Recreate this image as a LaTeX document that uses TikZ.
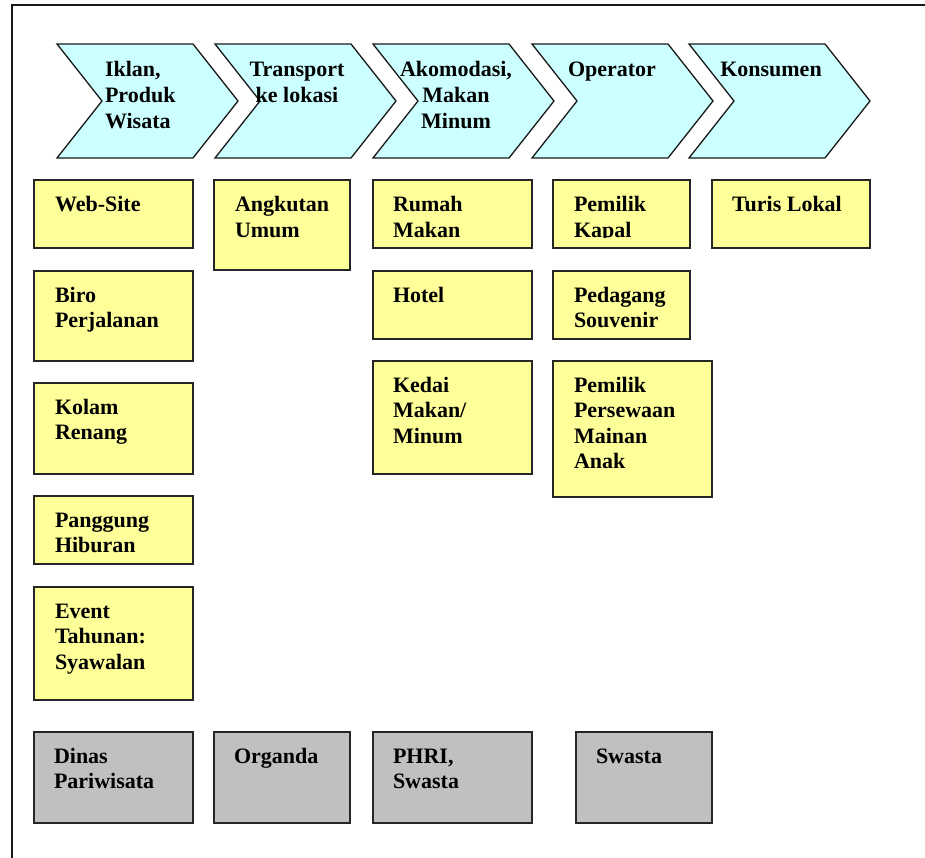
\documentclass[tikz,border=0pt]{standalone}
\usepackage{fontspec}
\setmainfont{Liberation Serif}
\newcommand{\lines}[1]{\begin{tabular}[t]{@{}l@{}}#1\end{tabular}}
\newcommand{\clines}[1]{\begin{tabular}[t]{@{}c@{}}#1\end{tabular}}
\begin{document}
\begin{tikzpicture}[x=1pt,y=-1pt,
  every node/.style={inner sep=0pt, outer sep=0pt},
  chev/.style={draw=black!90, fill=cyan!20!white, line width=1.3pt, line join=miter},
  ybox/.style={draw=black!85, fill=yellow!40!white, line width=1.6pt, anchor=north west},
  gbox/.style={draw=black!85, fill=black!25, line width=1.6pt, anchor=north west},
  lbl/.style={anchor=base west, font=\fontsize{22}{25.6}\selectfont\bfseries},
  clbl/.style={anchor=base, font=\fontsize{22}{25.6}\selectfont\bfseries}]
\useasboundingbox (0,0) rectangle (925,858);
\definecolor{chevfill}{HTML}{CCFFFF}
\definecolor{yfill}{HTML}{FFFF99}
\definecolor{gfill}{HTML}{C0C0C0}
\tikzset{chev/.append style={fill=chevfill}, ybox/.append style={fill=yfill}, gbox/.append style={fill=gfill}}
% frame
\draw[line width=1.8pt, black!90] (11.7,860) -- (11.7,5.3) -- (927,5.3);
% chevrons
\foreach \L/\n in {57/c1,215/c2,373/c3,532/c4,689/c5}{
  \draw[chev] (\L,44) -- ++(136,0) -- ++(45,57) -- ++(-45,57) -- ++(-136,0) -- ++(45,-57) -- cycle;
  \coordinate (\n) at (\L,44);
}
\node[lbl] (t1) at (105,77) {\lines{Iklan,\\Produk\\Wisata}};
\node[clbl] (t2) at (297,77) {\clines{Transport\\ke lokasi}};
\node[clbl] (t3) at (456,77) {\clines{Akomodasi,\\Makan\\Minum}};
\node[clbl] (t4) at (612,77) {\clines{Operator}};
\node[clbl] (t5) at (771,77) {\clines{Konsumen}};
% yellow boxes
\node[ybox, minimum width=159pt, minimum height=68pt] (web) at (34,180) {};
\node[lbl] at (55,212) {\lines{Web-Site}};
\node[ybox, minimum width=159pt, minimum height=90pt] (biro) at (34,271) {};
\node[lbl] at (55,302) {\lines{Biro\\Perjalanan}};
\node[ybox, minimum width=159pt, minimum height=91pt] (kolam) at (34,383) {};
\node[lbl] at (55,414) {\lines{Kolam\\Renang}};
\node[ybox, minimum width=159pt, minimum height=68pt] (panggung) at (34,496) {};
\node[lbl] at (55,527) {\lines{Panggung\\Hiburan}};
\node[ybox, minimum width=159pt, minimum height=113pt] (event) at (34,587) {};
\node[lbl] at (55,618) {\lines{Event\\Tahunan:\\Syawalan}};
\node[ybox, minimum width=136pt, minimum height=90pt] (angkutan) at (214,180) {};
\node[lbl] at (235,212) {\lines{Angkutan\\Umum}};
\node[ybox, minimum width=159pt, minimum height=68pt] (rumah) at (373,180) {};
\node[lbl] at (393,212) {\lines{Rumah\\Makan}};
\node[ybox, minimum width=159pt, minimum height=68pt] (hotel) at (373,271) {};
\node[lbl] at (393,302) {\lines{Hotel}};
\node[ybox, minimum width=159pt, minimum height=113pt] (kedai) at (373,361) {};
\node[lbl] at (393,392) {\lines{Kedai\\Makan/\\Minum}};
\node[ybox, minimum width=137pt, minimum height=68pt] (kapal) at (553,180) {};
\begin{scope}
\clip (553,180) rectangle (690,237.5);
\node[lbl] at (574,212) {\lines{Pemilik\\Kapal}};
\end{scope}
\node[ybox, minimum width=137pt, minimum height=68pt] (pedagang) at (553,271) {};
\node[lbl] at (574,302) {\lines{Pedagang\\Souvenir}};
\node[ybox, minimum width=159pt, minimum height=136pt] (persewaan) at (553,361) {};
\node[lbl] at (574,392) {\lines{Pemilik\\Persewaan\\Mainan\\Anak}};
\node[ybox, minimum width=158pt, minimum height=68pt] (turis) at (712,180) {};
\node[lbl] at (732,212) {\lines{Turis Lokal}};
% gray boxes
\node[gbox, minimum width=159pt, minimum height=91pt] (dinas) at (34,732) {};
\node[lbl] at (54,763) {\lines{Dinas\\Pariwisata}};
\node[gbox, minimum width=136pt, minimum height=91pt] (organda) at (214,732) {};
\node[lbl] at (234,763) {\lines{Organda}};
\node[gbox, minimum width=159pt, minimum height=91pt] (phri) at (373,732) {};
\node[lbl] at (393,763) {\lines{PHRI,\\Swasta}};
\node[gbox, minimum width=136pt, minimum height=91pt] (swasta) at (576,732) {};
\node[lbl] at (596,763) {\lines{Swasta}};
\end{tikzpicture}
\end{document}
